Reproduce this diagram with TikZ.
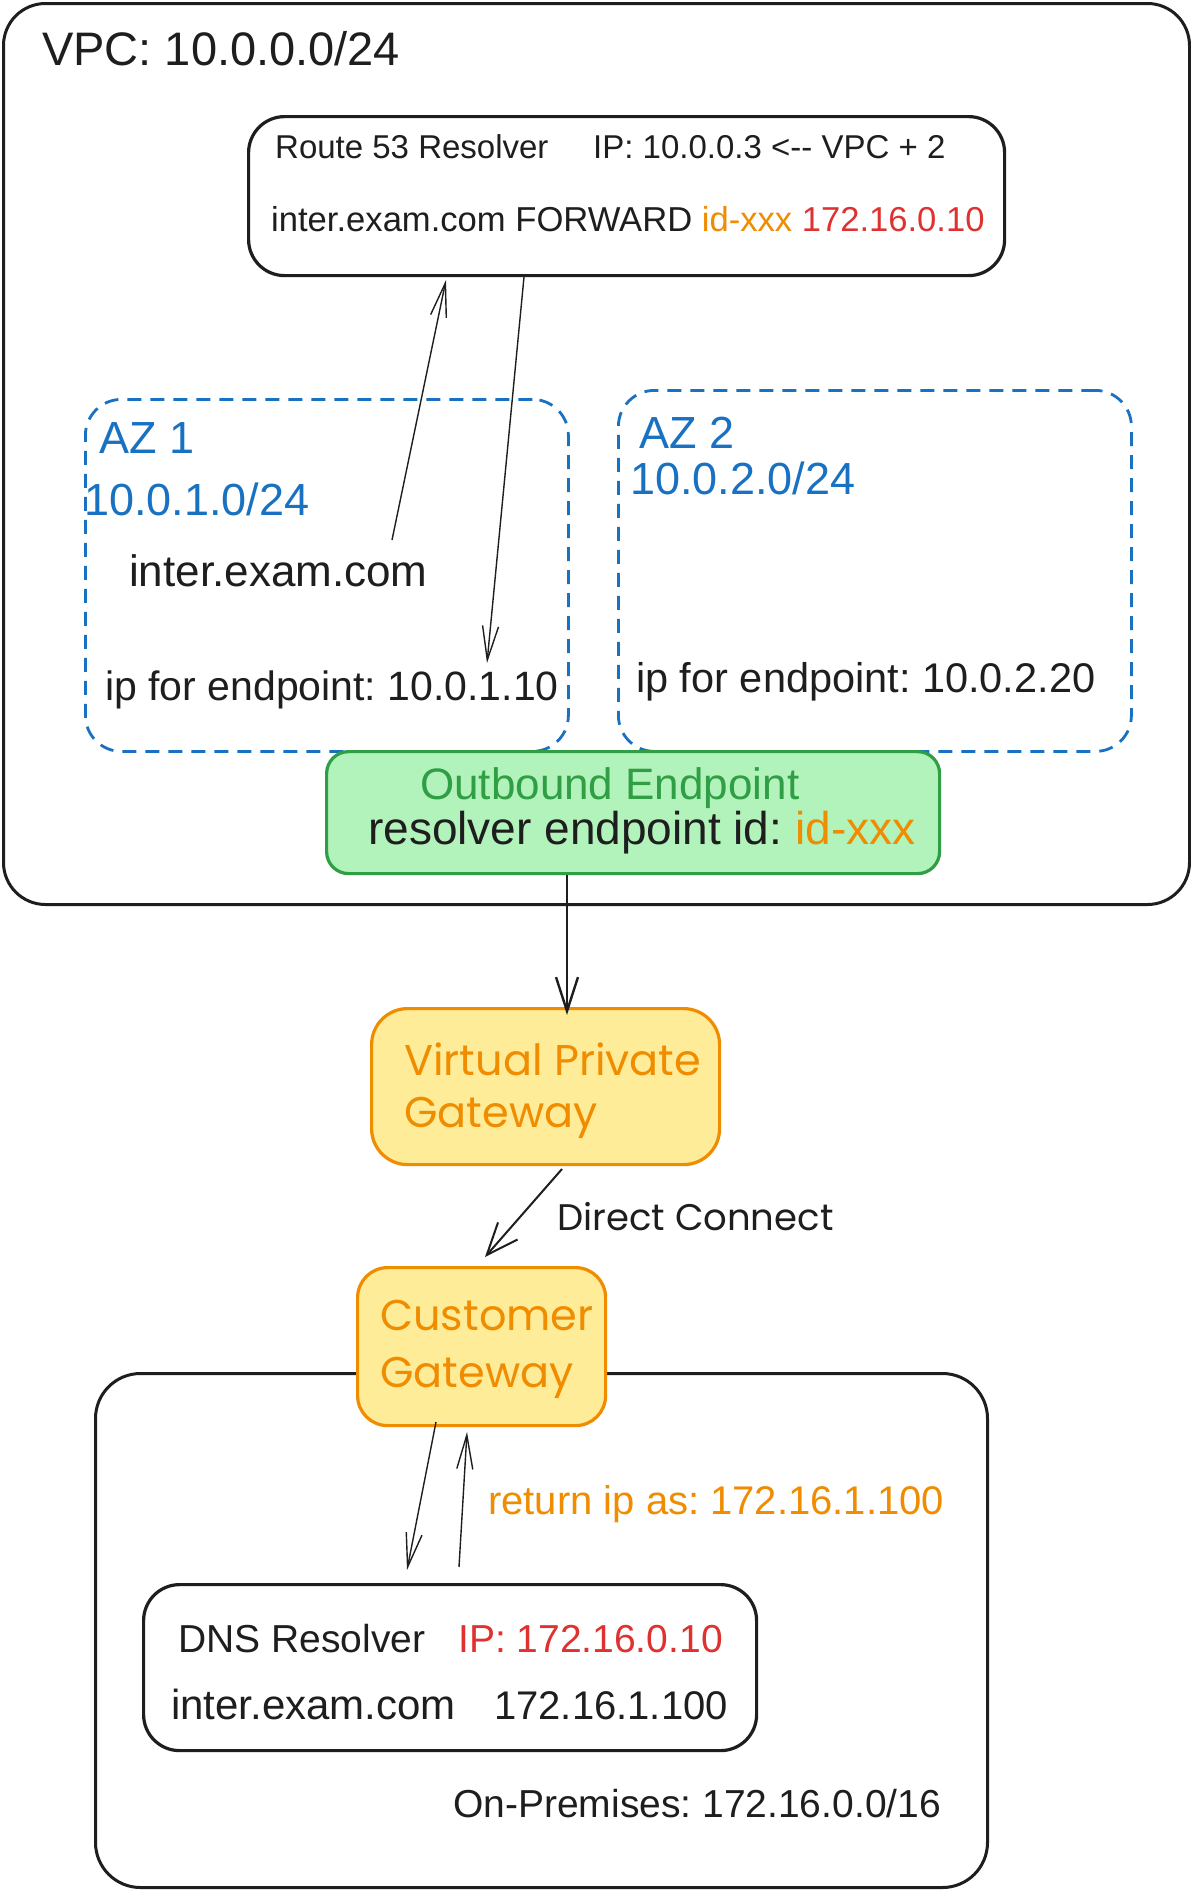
\documentclass[tikz,border=0pt]{standalone}
\usepackage{fontspec}
\setmainfont{Liberation Sans}
\newfontfamily\handb{Poppins}
\usetikzlibrary{arrows.meta}
\definecolor{ink}{HTML}{1E1E1E}
\definecolor{azblue}{HTML}{1971C2}
\definecolor{orng}{HTML}{F08C00}
\definecolor{redc}{HTML}{E03131}
\definecolor{grn}{HTML}{2F9E44}
\definecolor{grnfill}{HTML}{B2F2BB}
\definecolor{yel}{HTML}{FFEC99}
\newcommand{\fs}[1]{\fontsize{#1}{#1}\selectfont}
\frenchspacing
\begin{document}
\begin{tikzpicture}[x=1pt,y=-1pt,
  box/.style={draw=ink, line width=3pt, rounded corners=#1, inner sep=0pt, anchor=north west},
  azbox/.style={draw=azblue, line width=2.8pt, dash pattern=on 14pt off 9pt, rounded corners=36pt, inner sep=0pt, anchor=north west},
  txt/.style={inner sep=0pt, anchor=base west, text=ink},
  arr/.style={draw=ink, line width=1.4pt, -{Straight Barb[length=34pt,width=16pt]}},
]
\useasboundingbox (0,0) rectangle (1191,1891);
\fill[white] (0,0) rectangle (1191,1891);

% VPC
\node[box=42pt, minimum width=1186pt, minimum height=901pt] (vpc) at (2,2) {};
\node[txt, font=\fs{47}] (vpct) at (42,65) {VPC: 10.0.0.0/24};

% Route 53
\node[box=36pt, minimum width=756pt, minimum height=159pt, line width=3.2pt] (r53) at (247,115) {};
\node[txt, font=\fs{33}] (r53a) at (275,158) {Route 53 Resolver};
\node[txt, font=\fs{33}] (r53b) at (593,158) {IP: 10.0.0.3 <-{}- VPC + 2};
\node[txt, font=\fs{34.6}] (r53c) at (271,231) {inter.exam.com FORWARD \textcolor{orng}{id-xxx} \textcolor{redc}{172.16.0.10}};

% AZ boxes
\node[azbox, minimum width=483pt, minimum height=352pt] (az1) at (84,398) {};
\node[azbox, minimum width=513pt, minimum height=361pt] (az2) at (617,389) {};
\node[txt, text=azblue, font=\fs{45}] (az1a) at (99,453) {AZ 1};
\node[txt, text=azblue, font=\fs{45}] (az1b) at (84,515) {10.0.1.0/24};
\node[txt, font=\fs{44}] (az1c) at (129,586) {inter.exam.com};
\node[txt, font=\fs{41}] (az1d) at (105,700) {ip for endpoint: 10.0.1.10};
\node[txt, text=azblue, font=\fs{45}] (az2a) at (639,448) {AZ 2};
\node[txt, text=azblue, font=\fs{45}] (az2b) at (630,494) {10.0.2.0/24};
\node[txt, font=\fs{41.5}] (az2d) at (636,692) {ip for endpoint: 10.0.2.20};

% Outbound endpoint
\node[box=22pt, draw=grn, fill=grnfill, minimum width=613pt, minimum height=122pt, line width=3.2pt] (outb) at (325,750) {};
\node[txt, text=grn, font=\fs{44}] (outa) at (420,799) {Outbound Endpoint};
\node[txt, font=\fs{46}] (outc) at (368,844) {resolver endpoint id: \textcolor{orng}{id-xxx}};

% VPG
\node[box=36pt, draw=orng, fill=yel, minimum width=348pt, minimum height=156pt, line width=3.2pt] (vpg) at (370,1007) {};
\node[txt, text=orng, font=\handb\fs{43}] (vpga) at (404,1075) {Virtual Private};
\node[txt, text=orng, font=\handb\fs{43}] (vpgb) at (404,1127) {Gateway};

% On-premises
\node[box=45pt, minimum width=892pt, minimum height=514pt] (onp) at (94,1372) {};
\node[txt, font=\fs{39}] (onpt) at (453,1817) {On-Premises: 172.16.0.0/16};

% Customer gateway
\node[box=30pt, draw=orng, fill=yel, minimum width=248pt, minimum height=158pt, line width=3.2pt] (cg) at (356,1266) {};
\node[txt, text=orng, font=\handb\fs{43}] (cga) at (380,1330) {Customer};
\node[txt, text=orng, font=\handb\fs{43}] (cgb) at (380,1387) {Gateway};

% DNS resolver
\node[box=36pt, minimum width=613pt, minimum height=166pt, line width=3.2pt] (dns) at (142,1583) {};
\node[txt, font=\fs{39}] (dnsa) at (178,1652) {DNS Resolver};
\node[txt, text=redc, font=\fs{39}] (dnsb) at (458,1652) {IP: 172.16.0.10};
\node[txt, font=\fs{42}] (dnsc) at (171,1719) {inter.exam.com};
\node[txt, font=\fs{40}] (dnsd) at (494,1719) {172.16.1.100};

% labels
\node[txt, font=\handb\fs{37}] (dc) at (557,1230) {Direct Connect};
\node[txt, text=orng, font=\fs{40}] (ret) at (488,1514) {return ip as: 172.16.1.100};

% connector end points
\coordinate (a1s) at (392,540);
\coordinate (a1e) at (446,280);
\coordinate (a2s) at (524,277);
\coordinate (a2e) at (487,663);
\coordinate (x567) at (567,0);
\coordinate (a4s) at (562,1169);
\coordinate (a4e) at (485,1257);
\coordinate (a5s) at (436,1422);
\coordinate (a5e) at (407,1570);
\coordinate (a6s) at (459,1567);
\coordinate (a6e) at (467,1432);

\draw[arr] (a1s) -- (a1e);
\draw[arr] (a2s) -- (a2e);
\draw[arr, line width=2.4pt, -{Straight Barb[length=34pt,width=22pt]}] (outb.south -| x567) -- ([yshift=-8pt]vpg.north -| x567);
\draw[arr, line width=2pt, -{Straight Barb[length=32pt,width=26pt]}] (a4s) -- (a4e);
\draw[arr] (a5s) -- (a5e);
\draw[arr] (a6s) -- (a6e);
\end{tikzpicture}
\end{document}
